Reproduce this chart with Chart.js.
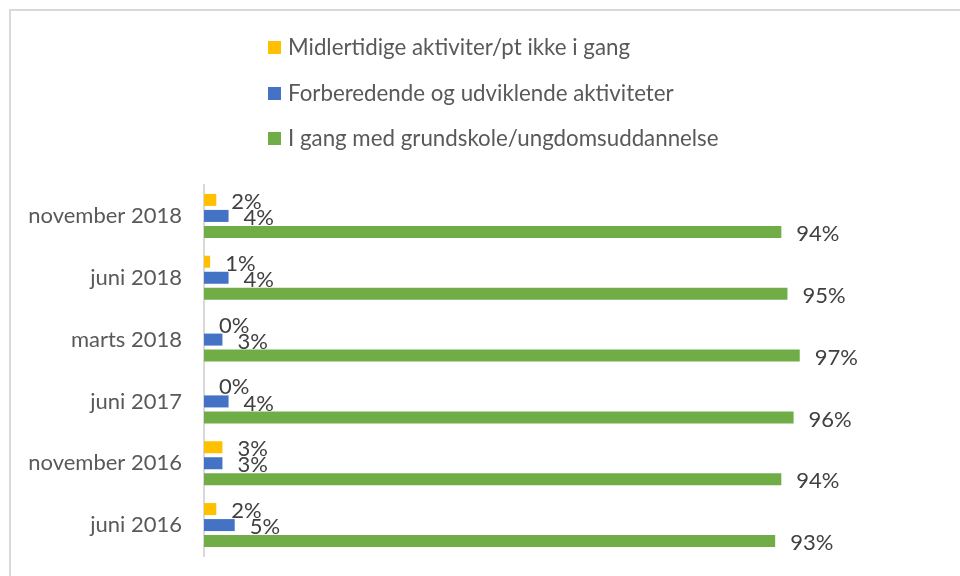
<!DOCTYPE html>
<html>
<head>
<meta charset="utf-8">
<script src="https://cdn.jsdelivr.net/npm/chart.js@4.4.1/dist/chart.umd.min.js"></script>
<style>
  html, body { margin: 0; padding: 0; background: #fff; }
  #wrap { position: relative; width: 960px; height: 576px; overflow: hidden; font-family: Lato, "Open Sans", sans-serif; }
  #frame { position: absolute; left: 9px; top: 9px; width: 1000px; height: 700px; border-left: 2px solid #d9d9d9; border-top: 2px solid #d9d9d9; box-sizing: border-box; }
  #chart { position: absolute; left: 0; top: 0; }
  .leg { position: absolute; left: 268px; font-size: 22.3px; color: #595959; white-space: nowrap; line-height: 1; }
  .leg span.box { position: absolute; left: 0; top: 5px; width: 13px; height: 13px; }
  .leg span.txt { position: absolute; left: 20px; top: 0; }
</style>
</head>
<body>
<div id="wrap">
  <div id="frame"></div>
  <canvas id="chart" width="960" height="576"></canvas>
  <div id="legend"></div>
</div>
<script>
const categories = ['november 2018', 'juni 2018', 'marts 2018', 'juni 2017', 'november 2016', 'juni 2016'];
const seriesNames = ['Midlertidige aktiviter/pt ikke i gang', 'Forberedende og udviklende aktiviteter', 'I gang med grundskole/ungdomsuddannelse'];
const midlertidige = [2, 1, 0, 0, 3, 2];
const forberedende = [4, 4, 3, 4, 3, 5];
const iGang = [94, 95, 97, 96, 94, 93];
const colors = ['#FFC000', '#4472C4', '#70AD47'];

const FONT = 'Lato, "Open Sans", sans-serif';

// HTML legend (vertical list)
const legendTops = [36, 82, 127];
const legendEl = document.getElementById('legend');
seriesNames.forEach((name, i) => {
  const d = document.createElement('div');
  d.className = 'leg';
  d.style.top = legendTops[i] + 'px';
  d.innerHTML = '<span class="box" style="background:' + colors[i] + '"></span><span class="txt"></span>';
  d.querySelector('.txt').textContent = name;
  legendEl.appendChild(d);
});

const valueLabels = {
  id: 'valueLabels',
  afterDatasetsDraw(chart) {
    const ctx = chart.ctx;
    ctx.save();
    ctx.font = '22px ' + FONT;
    ctx.fillStyle = '#404040';
    ctx.textAlign = 'left';
    ctx.textBaseline = 'middle';
    chart.data.datasets.forEach((ds, di) => {
      const meta = chart.getDatasetMeta(di);
      meta.data.forEach((bar, i) => {
        ctx.fillText(ds.data[i] + '%', bar.x + 15, bar.y + 2);
      });
    });
    ctx.restore();
  }
};

new Chart(document.getElementById('chart'), {
  type: 'bar',
  data: {
    labels: categories,
    datasets: [
      { label: seriesNames[0], data: midlertidige, backgroundColor: colors[0] },
      { label: seriesNames[1], data: forberedende, backgroundColor: colors[1] },
      { label: seriesNames[2], data: iGang, backgroundColor: colors[2] }
    ]
  },
  options: {
    indexAxis: 'y',
    responsive: false,
    animation: false,
    datasets: { bar: { barPercentage: 0.75, categoryPercentage: 0.777 } },
    layout: { padding: { left: 0, right: 19, top: 185, bottom: 20 } },
    plugins: { legend: { display: false }, tooltip: { enabled: false }, title: { display: false } },
    scales: {
      x: { display: false, min: 0, max: 120 },
      y: {
        grid: { display: false, drawTicks: false },
        border: { display: true, color: '#d9d9d9', width: 2 },
        ticks: { color: '#595959', font: { family: FONT, size: 22 }, padding: 22 },
        afterFit(scale) { scale.width = 204; scale.paddingTop = 0; scale.paddingBottom = 0; }
      }
    }
  },
  plugins: [valueLabels]
});
</script>
</body>
</html>
